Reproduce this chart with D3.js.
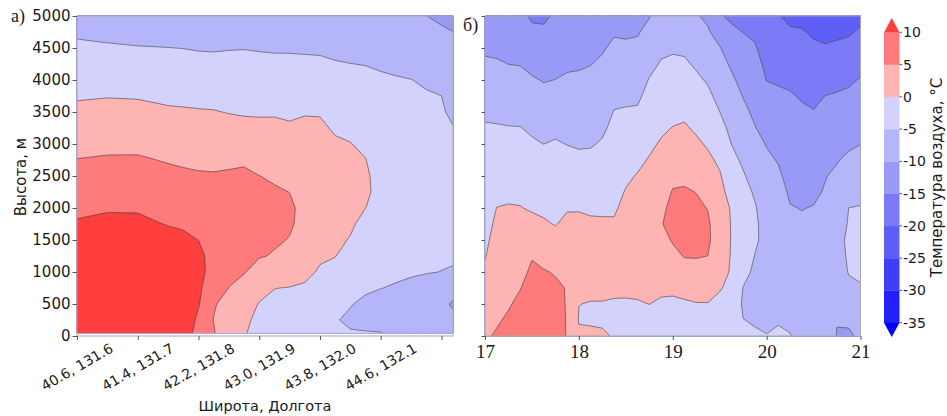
<!DOCTYPE html>
<html><head><meta charset="utf-8">
<script src="https://cdn.jsdelivr.net/npm/d3@7"></script>
<style>body{margin:0;background:#fff}svg{display:block}</style>
</head><body>
<svg id="c" width="947" height="416"></svg>
<script>
// ---------------- DATA ----------------
const levels = [-35,-30,-25,-20,-15,-10,-5,0,5,10];
const bandColors = ["#0000ff","#2020fc","#3f3ff9","#5e5ef8","#7b7bf7","#9999f7","#b5b5fa","#d2d2fc","#ffb4b4","#ff7b7b","#ff3e3e"];
const cbTicks = [10,5,0,-5,-10,-15,-20,-25,-30,-35];
const heightTicks = [0,500,1000,1500,2000,2500,3000,3500,4000,4500,5000];
const transectTicks = [0,1,2,3,4,5,6];
const transectLabels = ["40.6, 131.6","41.4, 131.7","42.2, 131.8","43.0, 131.9","43.8, 132.0","44.6, 132.1"];
const dayTicks = [17,18,19,20,21];

// panel a: positions along the transect (tick units) and heights (m)
const posA = [0,0.5,1,1.5,1.75,2,2.25,2.5,2.75,3,3.25,3.5,3.75,4,4.25,4.5,4.75,5,5.25,5.5,5.75,6,6.19];
const heightsA = [50,250,500,750,1000,1250,1500,1750,2000,2250,2500,2750,3000,3250,3500,3750,4000,4250,4500,4750,5000];
// temperature, one column per position, bottom -> top
const tempA = [
 [17,16.3,15.4,14.4,13.3,12.3,11.3,10.4,9.18,7.83,6.47,5.11,3.72,2.33,0.94,-0.41,-1.7,-2.99,-4.28,-5.57,-6.86],
 [17,16.3,15.3,14.3,13.2,12.2,11.2,10.5,9.8,8.24,6.89,5.43,4.04,2.66,1.27,-0.17,-1.63,-3.08,-4.53,-5.99,-7.45],
 [16.5,15.8,14.9,13.9,12.9,11.9,11.0,10.45,9.8,8.2,6.83,5.46,4.04,2.6,1.15,-0.3,-1.8,-3.3,-4.8,-6.3,-7.8],
 [16,15.3,14.4,13.4,12.5,11.6,10.75,9.9,8.5,7.3,6.0,4.72,3.33,1.94,0.55,-0.82,-2.2,-3.57,-4.95,-6.32,-7.7],
 [13,13.5,13.5,12.9,12.1,11.3,10.55,9.65,8.3,7.0,5.69,4.38,3.02,1.72,0.42,-0.93,-2.3,-3.67,-5.05,-6.4,-7.7],
 [8,9.0,10.35,10.9,11.2,10.7,9.98,8.82,7.68,6.55,5.41,4.17,2.88,1.58,0.29,-1.09,-2.49,-3.88,-5.27,-6.6,-7.9],
 [5.3,4.9,5.3,6.8,8.5,9.0,8.6,7.77,6.96,6.13,5.3,4.15,2.83,1.51,0.19,-1.19,-2.57,-3.95,-5.35,-6.68,-8.0],
 [2.2,2.7,3.8,4.95,5.8,6.5,7.3,6.9,6.4,5.8,5.27,4.6,2.76,1.29,-0.15,-1.41,-2.66,-3.92,-5.19,-6.46,-7.9],
 [0.2,0.5,1.8,3.5,5.2,5.7,6.2,6.45,6.0,5.5,5.4,4.7,2.61,1.06,-0.38,-1.56,-2.75,-3.93,-5.12,-6.43,-7.8],
 [-0.8,-0.6,-0.2,1.5,3.7,5.2,5.65,6.1,5.9,5.45,5.03,3.71,2.3,0.9,-0.44,-1.65,-2.86,-4.08,-5.27,-6.52,-7.8],
 [-1.5,-1.3,-0.6,0.05,2.4,4.8,5.3,5.65,5.6,5.26,4.69,3.42,2.14,0.87,-0.4,-1.65,-2.9,-4.15,-5.4,-6.6,-7.8],
 [-2,-1.7,-0.9,-0.1,1.5,3.2,4.9,5.25,5.3,4.98,3.87,2.75,1.62,0.5,-0.67,-1.86,-3.05,-4.24,-5.38,-6.56,-7.7],
 [-2.5,-2.2,-1.3,-0.42,0.8,2.0,3.2,4.4,4.5,3.8,3.0,2.2,1.4,0.6,-0.2,-1.6,-2.95,-4.26,-5.49,-6.59,-7.7],
 [-3,-2.8,-2.1,-1.3,-0.35,0.41,1.09,1.77,2.45,2.88,2.29,1.69,1.1,0.5,-0.22,-1.59,-2.97,-4.34,-5.58,-6.69,-7.8],
 [-3.8,-4.8,-4.3,-2.8,-1.2,0.1,0.69,1.27,1.84,2.18,1.59,1.0,0.4,-0.35,-1.45,-2.54,-3.64,-4.74,-5.88,-7.04,-8.2],
 [-4.8,-5.5,-4.84,-3.67,-2.51,-1.35,-0.19,0.44,1.0,1.5,1.17,0.64,0.11,-0.83,-1.86,-2.89,-3.93,-4.96,-6.1,-7.25,-8.4],
 [-4.9,-5.6,-5.6,-4.56,-3.64,-2.72,-1.8,-0.88,0.02,0.51,0.6,0.1,-0.7,-1.57,-2.45,-3.32,-4.2,-5.09,-6.23,-7.36,-8.5],
 [-4.95,-5.8,-6.1,-4.95,-4.15,-3.35,-2.55,-1.75,-1.05,-0.9,-1.44,-1.97,-2.5,-3.04,-3.58,-4.11,-4.64,-5.31,-6.4,-7.5,-8.6],
 [-5.5,-6.4,-6.5,-5.25,-4.49,-3.87,-3.25,-2.63,-2.0,-1.6,-2.06,-2.51,-2.97,-3.43,-3.88,-4.34,-4.79,-5.58,-6.65,-7.72,-8.8],
 [-6,-6.9,-7.3,-5.65,-4.68,-4.12,-3.56,-3.0,-2.45,-2.08,-2.49,-2.9,-3.31,-3.72,-4.13,-4.54,-4.95,-5.91,-6.94,-7.97,-9.0],
 [-6.5,-7.5,-8.1,-6.26,-4.84,-4.36,-3.87,-3.38,-2.89,-2.57,-2.94,-3.3,-3.66,-4.03,-4.39,-4.75,-5.37,-6.53,-7.69,-8.84,-9.95],
 [-7,-8.1,-8.8,-6.9,-5.05,-4.58,-4.17,-3.75,-3.33,-3.06,-3.38,-3.71,-4.03,-4.35,-4.67,-4.99,-6.09,-7.23,-8.36,-9.5,-10.7],
 [-7.5,-8.8,-10.6,-8.0,-5.2,-4.7,-4.3,-3.9,-3.5,-3.28,-3.68,-4.08,-4.47,-4.87,-5.59,-6.47,-7.34,-8.22,-9.09,-9.97,-11]
];

// panel b: days and heights (m)
const daysB = [17,17.125,17.25,17.375,17.5,17.625,17.75,17.875,18,18.125,18.25,18.375,18.5,18.625,18.75,18.875,19,19.125,19.25,19.375,19.5,19.625,19.75,19.875,20,20.125,20.25,20.375,20.5,20.625,20.75,20.875,21];
const heightsB = [0,250,500,750,1000,1250,1500,1750,2000,2250,2500,2750,3000,3250,3500,3750,4000,4250,4500,4750,5000];
const tempB = [
 [4.5,3.5,2.5,1.6,0.6,-0.2,-0.8,-1.3,-1.9,-2.4,-3.0,-3.6,-4.1,-4.7,-5.5,-6.8,-8.1,-9.4,-10.6,-11.8,-13],
 [5.4,4.6,3.98,3.3,2.67,2.0,1.36,0.7,0.05,-0.88,-1.83,-2.79,-3.74,-4.69,-5.85,-7.1,-8.35,-9.6,-10.76,-11.88,-13],
 [6.5,5.5,4.67,3.93,3.2,2.46,1.72,0.98,0.24,-0.7,-1.74,-2.77,-3.8,-4.83,-6.1,-7.4,-8.7,-10.02,-11.2,-12.3,-13.5],
 [7.5,6.6,5.8,4.89,3.94,3.0,2.05,1.1,0.15,-0.85,-1.85,-2.86,-3.87,-4.88,-6.17,-7.5,-8.83,-10.15,-11.4,-12.6,-13.8],
 [8.5,7.8,7.07,6.35,5.63,4.78,2.94,1.1,-0.41,-1.42,-2.44,-3.46,-4.47,-5.63,-6.95,-8.26,-9.58,-11.06,-12.63,-14.19,-15.6],
 [8.5,7.7,6.9,6.07,5.26,3.85,2.16,0.47,-0.76,-1.8,-2.88,-3.94,-5.02,-6.3,-7.6,-8.9,-10.22,-11.6,-12.97,-14.34,-15.7],
 [8,7.2,6.4,5.65,4.73,3.04,1.35,-0.18,-1.07,-1.96,-2.86,-3.75,-4.64,-5.82,-7.2,-8.57,-9.95,-11.09,-12.23,-13.36,-14.5],
 [4.6,4.65,4.7,4.8,4.2,3.1,1.98,0.85,-0.29,-1.49,-2.69,-3.89,-5.09,-6.18,-7.28,-8.38,-9.47,-10.59,-11.73,-12.86,-14],
 [0.7,-0.25,0.05,1.1,2.2,1.6,1.05,0.5,-0.16,-1.5,-2.85,-4.2,-5.4,-6.39,-7.38,-8.37,-9.37,-10.43,-11.62,-12.81,-14],
 [0.5,-0.3,-0.17,0.8,1.87,1.94,1.17,0.46,-0.45,-1.68,-2.92,-4.16,-5.3,-6.26,-7.2,-8.17,-9.12,-10.1,-11.2,-12.4,-13.5],
 [0.4,-0.42,-0.18,0.8,1.8,1.8,1.09,0.39,-0.46,-1.5,-2.54,-3.58,-4.63,-5.61,-6.55,-7.5,-8.45,-9.39,-10.38,-11.44,-12.5],
 [-0.2,-0.7,-0.3,0.55,1.58,1.89,1.12,0.34,-0.41,-1.15,-1.89,-2.63,-3.37,-4.11,-4.85,-5.89,-7.01,-8.13,-9.24,-10.36,-11.5],
 [-1.2,-1.25,-0.35,0.58,1.45,2.33,2.02,1.42,0.82,0.22,-0.64,-1.64,-2.64,-3.64,-4.64,-5.76,-6.95,-8.14,-9.33,-10.55,-11.8],
 [-1.5,-1.3,-0.25,0.65,1.5,2.36,3.2,2.46,1.72,0.98,0.24,-0.83,-2.06,-3.28,-4.51,-5.69,-6.85,-8.0,-9.17,-10.33,-11.5],
 [-2,-1.5,0.03,0.93,1.8,2.64,3.5,4.0,3.08,2.14,1.2,0.26,-0.73,-1.75,-2.76,-3.78,-4.8,-6.09,-7.45,-8.8,-10.2],
 [-2.2,-1.6,-0.35,0.47,1.55,2.63,3.7,4.8,4.23,3.27,2.3,1.35,0.38,-0.61,-1.63,-2.64,-3.66,-4.67,-5.79,-6.95,-8.1],
 [-2.5,-1.8,-0.68,0.68,2.36,4.05,5.31,6.02,5.9,5.24,4.14,2.8,1.45,0.11,-1.02,-2.12,-3.23,-4.34,-5.43,-6.52,-7.6],
 [-2.6,-1.9,-0.57,1.42,3.5,5.18,5.83,6.47,6.04,5.35,4.35,3.06,1.76,0.47,-0.78,-1.99,-3.2,-4.42,-5.66,-6.93,-8.2],
 [-2.8,-2.0,-0.2,1.75,3.73,5.22,5.87,6.18,5.58,4.94,3.54,2.13,0.73,-0.59,-1.81,-3.04,-4.26,-5.54,-6.89,-8.25,-9.6],
 [-3,-2.2,-0.15,1.58,3.29,4.98,5.5,5.42,4.89,3.53,2.17,0.82,-0.49,-1.72,-2.94,-4.17,-5.43,-6.79,-8.15,-9.51,-10.9],
 [-3.2,-2.5,-0.9,0.27,1.25,2.23,3.2,3.14,2.19,1.3,0.42,-0.74,-2.16,-3.58,-4.98,-6.19,-7.38,-8.57,-9.76,-12.0,-14.6],
 [-3.5,-2.8,-1.65,-0.9,-0.35,-0.29,-0.22,-0.27,-0.4,-1.55,-2.7,-3.85,-5.02,-6.07,-7.14,-8.21,-9.27,-10.56,-12.32,-14.08,-15.8],
 [-4.5,-4.94,-5.6,-5.1,-4.0,-3.0,-2.5,-2.5,-2.8,-3.7,-4.6,-5.67,-6.79,-7.9,-9.02,-10.15,-11.37,-12.6,-13.82,-15.05,-16.3],
 [-4.6,-5.3,-6.0,-5.9,-5.6,-5.1,-4.5,-4.4,-4.7,-5.44,-6.54,-7.63,-8.73,-9.82,-10.81,-11.77,-12.73,-13.69,-14.65,-15.62,-16.6],
 [-4.9,-5.6,-6.3,-6.3,-6.2,-6.1,-6.0,-6.4,-6.8,-7.63,-8.47,-9.3,-10.2,-11.44,-12.67,-13.91,-15.09,-15.87,-16.65,-17.42,-18.2],
 [-4.6,-5.2,-6.0,-6.1,-6.25,-6.4,-6.5,-7.2,-7.9,-8.65,-9.4,-10.25,-11.27,-12.3,-13.32,-14.34,-15.4,-16.5,-17.6,-18.7,-19.8],
 [-4.9,-5.4,-6.5,-7.0,-7.6,-8.1,-8.7,-9.3,-9.84,-10.5,-11.19,-11.89,-12.58,-13.28,-13.97,-14.67,-15.68,-16.98,-18.28,-19.58,-20.8],
 [-6.0,-6.5,-7.0,-7.5,-8.1,-8.6,-9.1,-9.57,-10.09,-10.82,-11.55,-12.28,-13.01,-13.74,-14.47,-15.31,-16.41,-17.51,-18.61,-19.71,-21],
 [-6.3,-6.75,-7.2,-7.67,-8.13,-8.6,-9.06,-9.47,-9.87,-10.58,-11.43,-12.28,-13.13,-13.98,-14.83,-15.93,-17.08,-18.24,-19.4,-20.49,-21.5],
 [-6.5,-6.9,-7.27,-7.65,-8.04,-8.42,-8.75,-9.08,-9.4,-9.73,-10.15,-11.12,-12.08,-13.04,-14.0,-14.96,-16.52,-18.1,-19.68,-20.89,-22],
 [-10.3,-9.75,-8.5,-7.4,-6.9,-6.45,-6.0,-6.83,-7.67,-8.5,-9.33,-10.22,-11.33,-12.43,-13.54,-14.65,-16.08,-17.66,-19.24,-20.79,-22.3],
 [-10.4,-9.6,-7.7,-5.8,-4.8,-4.5,-4.4,-4.7,-4.98,-6.42,-7.84,-9.26,-10.59,-11.81,-13.04,-14.26,-15.63,-17.22,-18.8,-20.48,-22.5],
 [-9.5,-8.1,-6.6,-5.2,-4.6,-4.1,-3.9,-4.4,-4.85,-5.8,-7.22,-8.64,-10.05,-11.22,-12.38,-13.55,-14.72,-16.12,-17.82,-19.42,-21]
];

// ---------------- LAYOUT ----------------
const SANS = "DejaVu Sans", SERIF = "Liberation Serif";
const svg = d3.select("#c");
const yScale = d3.scaleLinear().domain([0,5000]).range([336,16]);
const xA = d3.scaleLinear().domain([0,6.19]).range([77,453]);
const xB = d3.scaleLinear().domain([17,21]).range([485,860.5]);

function contourPanel(cols, xs, ys, xScale) {
  const g = svg.append("g");
  const n = xs.length, m = ys.length;
  const values = new Array(n*m);
  for (let i=0;i<n;i++) for (let j=0;j<m;j++) values[j*n+i] = cols[i][j];
  const ix = d3.scaleLinear().domain(d3.range(n)).range(xs).clamp(true);
  const iy = d3.scaleLinear().domain(d3.range(m)).range(ys).clamp(true);
  const P = p => [xScale(ix(p[0]-0.5)), yScale(iy(p[1]-0.5))];
  const x0 = xScale(xs[0]), x1 = xScale(xs[n-1]), y0 = yScale(ys[0]), y1 = yScale(ys[m-1]);
  const ths = [-1000].concat(levels);
  const cs = d3.contours().size([n,m]).thresholds(ths)(values);
  cs.forEach((c,k) => {
    let d = "";
    c.coordinates.forEach(poly => poly.forEach(ring => {
      d += "M" + ring.map(p => P(p).map(v => v.toFixed(2)).join(",")).join("L") + "Z";
    }));
    if (d) g.append("path").attr("d", d).attr("fill", bandColors[k]).attr("fill-rule","evenodd")
      .attr("stroke", bandColors[k]).attr("stroke-width", 0.4);
  });
  const eq = (a,b) => Math.abs(a-b) < 0.05;
  cs.forEach((c,k) => {
    if (k === 0) return;
    let d = "";
    c.coordinates.forEach(poly => poly.forEach(ring => {
      let pen = false;
      for (let s=0;s<ring.length-1;s++) {
        const a = P(ring[s]), b = P(ring[s+1]);
        const onB = (eq(a[0],x0)&&eq(b[0],x0))||(eq(a[0],x1)&&eq(b[0],x1))||(eq(a[1],y0)&&eq(b[1],y0))||(eq(a[1],y1)&&eq(b[1],y1));
        if (onB) { pen = false; continue; }
        if (!pen) d += "M" + a[0].toFixed(2) + "," + a[1].toFixed(2);
        d += "L" + b[0].toFixed(2) + "," + b[1].toFixed(2);
        pen = true;
      }
    }));
    if (d) g.append("path").attr("d", d).attr("fill","none").attr("stroke","#404040")
      .attr("stroke-width", 0.7).attr("stroke-opacity", 0.85).attr("stroke-linejoin","round");
  });
}

contourPanel(tempA, posA, heightsA, xA);
contourPanel(tempB, daysB, heightsB, xB);

// frames
[[77,453],[485,860.5]].forEach(([a,b]) => {
  svg.append("rect").attr("x",a).attr("y",16).attr("width",b-a).attr("height",320)
    .attr("fill","none").attr("stroke","#a8a8a8").attr("stroke-width",1);
});

function styleAxis(g, font, size) {
  g.select(".domain").remove();
  g.selectAll(".tick line").attr("stroke","#555");
  g.selectAll("text").attr("font-family", font).attr("font-size", size).attr("fill","#1a1a1a");
}

// panel a axes
const gya = svg.append("g").attr("transform","translate(77,0)")
  .call(d3.axisLeft(yScale).tickValues(heightTicks).tickSize(4.5).tickPadding(2).tickFormat(d3.format("d")));
styleAxis(gya, SANS, 15);
const gxa = svg.append("g").attr("transform","translate(0,336)")
  .call(d3.axisBottom(xA).tickValues(transectTicks).tickSize(4).tickFormat(""));
styleAxis(gxa, SANS, 14);
transectLabels.forEach((t,i) => {
  const x = xA(transectTicks[i]);
  svg.append("text").attr("x", x).attr("y", 367).attr("dy","0.35em")
    .attr("text-anchor","middle").attr("transform",`rotate(-30,${x},367)`)
    .attr("font-family", SANS).attr("font-size", 14).attr("fill","#1a1a1a").text(t);
});
svg.append("text").attr("x",265).attr("y",410.5).attr("text-anchor","middle")
  .attr("font-family",SANS).attr("font-size",14.5).attr("fill","#1a1a1a").text("Широта, Долгота");
svg.append("text").attr("transform","translate(26,177) rotate(-90)").attr("text-anchor","middle")
  .attr("font-family",SANS).attr("font-size",15).attr("fill","#1a1a1a").text("Высота, м");
svg.append("text").attr("x",11).attr("y",22).attr("font-family",SERIF).attr("font-size",18)
  .attr("fill","#1a1a1a").text("а)");

// panel b axes
const gyb = svg.append("g").attr("transform","translate(485,0)")
  .call(d3.axisLeft(yScale).tickValues(heightTicks).tickSize(3.5).tickFormat(""));
styleAxis(gyb, SANS, 14);
const gxb = svg.append("g").attr("transform","translate(0,336)")
  .call(d3.axisBottom(xB).tickValues(dayTicks).tickSize(4).tickPadding(4.5).tickFormat(d3.format("d")));
styleAxis(gxb, SERIF, 19);
svg.append("text").attr("x",463).attr("y",31).attr("font-family",SERIF).attr("font-size",18)
  .attr("fill","#1a1a1a").text("б)");

// colorbar
const cbX = 884, cbW = 15.5;
const cbY = d3.scaleLinear().domain([-35,10]).range([322.7,32.3]);
const cb = svg.append("g");
for (let k=0;k<levels.length-1;k++) {
  cb.append("rect").attr("x",cbX).attr("width",cbW)
    .attr("y",cbY(levels[k+1])).attr("height",cbY(levels[k])-cbY(levels[k+1])+0.3)
    .attr("fill",bandColors[k+1]);
}
cb.append("path").attr("d",`M${cbX},${cbY(10)+0.3}L${cbX+cbW/2},18L${cbX+cbW},${cbY(10)+0.3}Z`).attr("fill",bandColors[10]);
cb.append("path").attr("d",`M${cbX},${cbY(-35)}L${cbX+cbW/2},337L${cbX+cbW},${cbY(-35)}Z`).attr("fill",bandColors[0]);
cbTicks.forEach(v => {
  cb.append("line").attr("x1",cbX+cbW).attr("x2",cbX+cbW+2.5).attr("y1",cbY(v)).attr("y2",cbY(v)).attr("stroke","#555");
  cb.append("text").attr("x",903).attr("y",cbY(v)).attr("dy","0.36em").attr("font-family",SANS)
    .attr("font-size",14).attr("fill","#1a1a1a").text(v);
});
svg.append("text").attr("transform","translate(942,177.5) rotate(-90)").attr("text-anchor","middle")
  .attr("font-family",SANS).attr("font-size",15).attr("fill","#1a1a1a").text("Температура воздуха, °C");
</script>
</body></html>
